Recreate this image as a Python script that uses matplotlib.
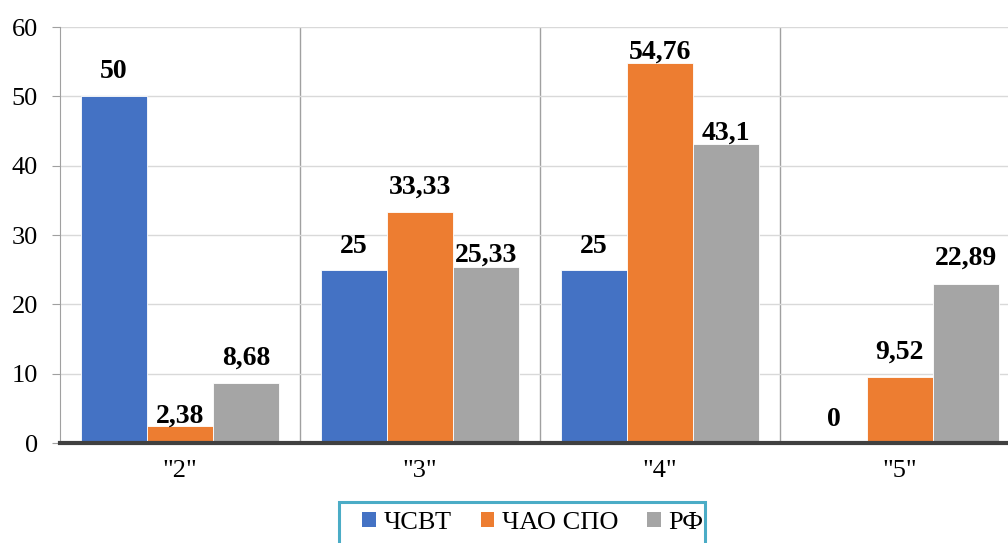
import numpy as np
import matplotlib.pyplot as plt
from matplotlib.patches import Patch, Rectangle

plt.rcParams['font.family'] = ['Liberation Serif', 'DejaVu Serif']

# Категории оценок и значения (%)
categories = ['"2"', '"3"', '"4"', '"5"']
series_names = ['ЧСВТ', 'ЧАО СПО', 'РФ']
chsvt = [50, 25, 25, 0]
chao_spo = [2.38, 33.33, 54.76, 9.52]
rf = [8.68, 25.33, 43.1, 22.89]
colors = ['#4472C4', '#ED7D31', '#A5A5A5']
# отступ подписи над столбцом (pt), как в исходнике
label_pad = [[13, 12, 12, 12], [3, 13, 3, 13], [13, 4, 3, 14]]

fig = plt.figure(figsize=(10.08, 5.43), dpi=100)
ax = fig.add_axes([60 / 1008, 100 / 543, 960 / 1008, 416 / 543])

x = np.arange(len(categories))
w = 0.275
for i, (vals, col) in enumerate(zip([chsvt, chao_spo, rf], colors)):
    pos = x + (i - 1) * w
    ax.bar(pos, vals, width=w, color=col, edgecolor='white', linewidth=0.6, zorder=3)
    for p, v, pad in zip(pos, vals, label_pad[i]):
        lab = ('%g' % v).replace('.', ',')
        ax.annotate(lab, (p, v), xytext=(0, pad), textcoords='offset points',
                    ha='center', va='baseline', fontsize=20, fontweight='bold')

ax.set_xlim(-0.5, 3.5)
ax.set_ylim(0, 60)
ax.set_yticks(range(0, 61, 10))
ax.set_xticks(x)
ax.set_xticklabels(categories)
ax.set_xticks(x[:-1] + 0.5, minor=True)
ax.tick_params(axis='x', which='both', length=0, labelsize=19, pad=12)
ax.tick_params(axis='y', length=6, color='#A0A0A0', labelsize=19, pad=10)

ax.grid(axis='y', color='#D9D9D9', linewidth=1, zorder=0)
ax.grid(axis='x', which='minor', color='#A0A0A0', linewidth=1, zorder=0)

for s in ['top', 'right']:
    ax.spines[s].set_visible(False)
ax.spines['left'].set_color('#A0A0A0')
ax.spines['bottom'].set_color('#404040')
ax.spines['bottom'].set_linewidth(3)
ax.spines['bottom'].set_zorder(4)

handles = [Patch(facecolor=c, edgecolor='none') for c in colors]
fig.legend(handles, series_names, loc='center', bbox_to_anchor=(533 / 1008, 1 - 523 / 543),
           ncol=3, frameon=False, fontsize=19, handlelength=0.5, handleheight=0.5,
           handletextpad=0.3, columnspacing=1.1)
fig.patches.append(Rectangle((339 / 1008, -0.05), 366 / 1008, 0.05 + 41 / 543,
                             transform=fig.transFigure, fill=False,
                             edgecolor='#4BACC6', linewidth=2.2))

fig.savefig('out.png')
